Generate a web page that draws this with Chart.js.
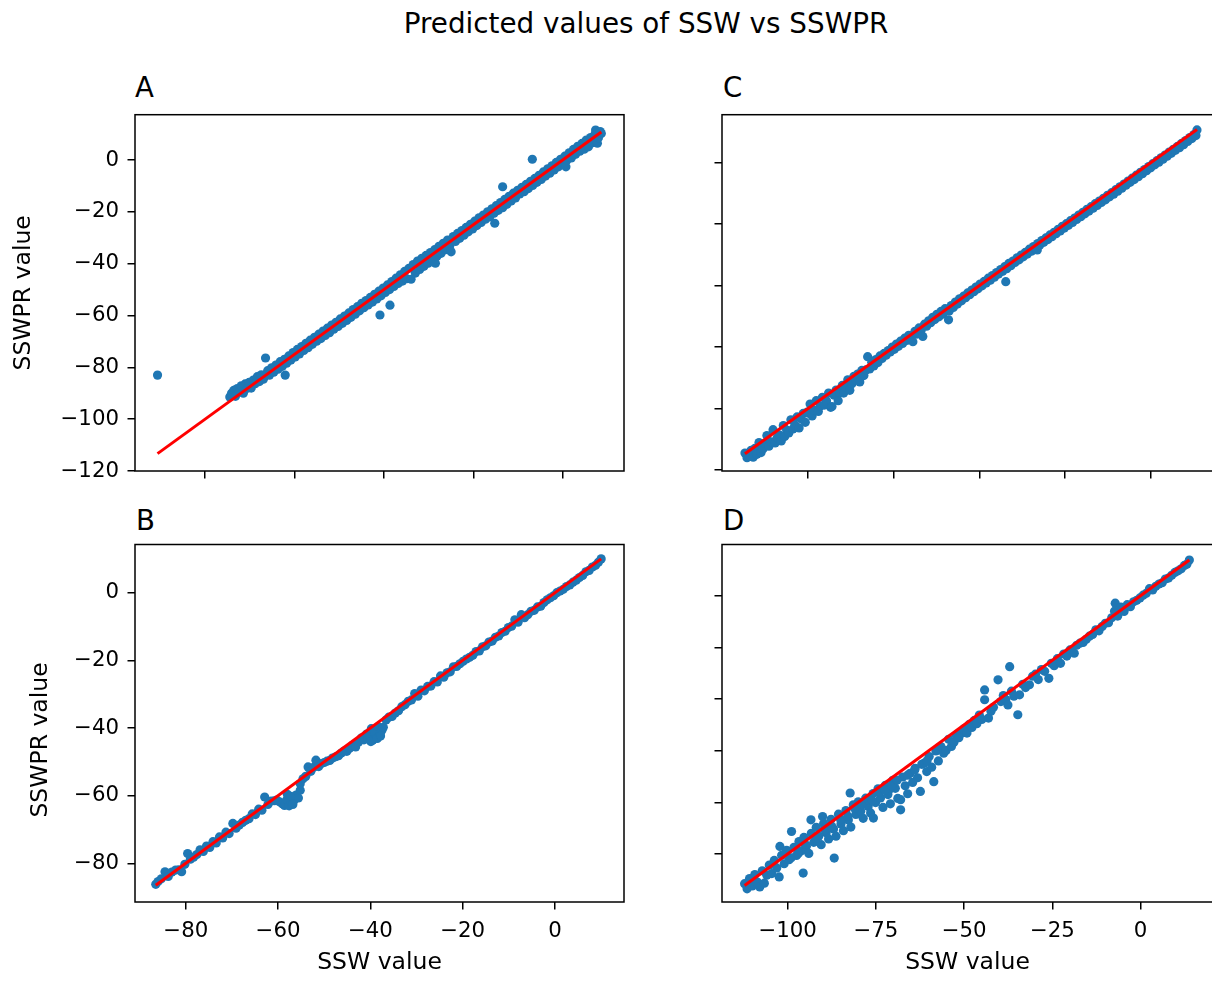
<!DOCTYPE html>
<html><head><meta charset="utf-8">
<script src="https://cdn.jsdelivr.net/npm/chart.js@4.4.0/dist/chart.umd.min.js"></script>
<style>
html,body{margin:0;padding:0;background:#fff;overflow:hidden;width:1212px;height:981px;}
body{position:relative;font-family:'DejaVu Sans',sans-serif;color:#000;}
canvas{position:absolute;}
.t{position:absolute;font-size:27.6px;line-height:34px;white-space:nowrap;}
</style></head><body>
<div class="t" id="sup" style="left:296px;width:700px;text-align:center;top:7px;font-size:27.8px"></div>
<div class="t" id="tA" style="left:135px;top:71px"></div>
<div class="t" id="tC" style="left:723px;top:71px"></div>
<div class="t" id="tB" style="left:136px;top:504px"></div>
<div class="t" id="tD" style="left:723px;top:504px"></div>
<canvas id="cA" width="640" height="400" style="left:0;top:100px"></canvas>
<canvas id="cB" width="640" height="461" style="left:0;top:520px"></canvas>
<canvas id="cC" width="590" height="400" style="left:640px;top:100px"></canvas>
<canvas id="cD" width="580" height="461" style="left:640px;top:520px"></canvas>
<script>
const suptitle = 'Predicted values of SSW vs SSWPR';
const panelNames = ['A', 'B', 'C', 'D'];
const xLabel = 'SSW value';
const yLabel = 'SSWPR value';

const ticksAX = [-100, -75, -50, -25, 0];
const ticksAY = [-120, -100, -80, -60, -40, -20, 0];
const ticksBX = [-80, -60, -40, -20, 0];
const ticksBY = [-80, -60, -40, -20, 0];
const ticksCX = [-100, -75, -50, -25, 0];
const ticksCY = [-125, -100, -75, -50, -25, 0];
const ticksDX = [-100, -75, -50, -25, 0];
const ticksDY = [-100, -80, -60, -40, -20, 0];

// Panel A
const aSSW = [
-93.1,-92.6,-92.0,-91.5,-91.0,-90.4,-89.9,-89.3,-88.8,-88.2,
-87.7,-87.1,-86.5,-86.0,-85.4,-84.8,-84.3,-83.7,-83.1,-82.5,
-82.0,-81.4,-80.8,-80.2,-79.6,-79.0,-78.4,-77.8,-77.6,-77.2,
-76.6,-76.0,-75.4,-74.8,-74.2,-73.6,-73.0,-72.4,-71.8,-71.2,
-70.6,-70.0,-69.4,-68.8,-68.2,-67.6,-67.0,-66.4,-65.8,-65.2,
-64.6,-64.0,-63.4,-62.8,-62.2,-61.6,-61.0,-60.4,-59.8,-59.2,
-58.6,-58.0,-57.4,-56.8,-56.2,-55.6,-55.0,-54.4,-53.8,-53.2,
-52.6,-52.0,-51.4,-51.1,-50.8,-50.2,-49.6,-49.0,-48.4,-48.3,
-47.8,-47.2,-46.6,-46.0,-45.4,-44.8,-44.2,-43.6,-43.0,-42.4,
-41.8,-41.2,-40.6,-40.0,-39.4,-38.8,-38.2,-37.6,-37.0,-36.4,
-35.8,-35.6,-35.2,-34.6,-34.0,-33.4,-32.8,-32.2,-31.6,-31.2,
-30.6,-30.0,-29.4,-28.8,-28.2,-27.6,-27.0,-26.4,-25.8,-25.2,
-24.6,-24.0,-23.4,-22.8,-22.2,-21.6,-21.0,-20.4,-19.8,-19.0,
-19.2,-18.6,-18.0,-17.4,-16.8,-16.8,-16.2,-15.6,-15.0,-14.4,
-13.8,-13.2,-12.6,-12.0,-11.4,-10.8,-10.2,-9.6,-9.0,-8.5,
-8.4,-7.8,-7.2,-6.6,-6.0,-5.4,-4.8,-4.2,-3.6,-3.0,
-2.4,-1.8,-1.2,-0.6,0.0,0.6,0.9,1.2,1.8,2.4,
3.0,3.6,4.2,4.8,5.4,6.0,6.6,7.2,7.8,8.4,
9.0,9.2,9.7,10.0,10.5,10.8,-113.3];
const aSSWPR = [
-91.4,-90.0,-88.9,-91.2,-88.2,-89.4,-87.1,-90.0,-86.4,-88.1,
-85.8,-88.0,-84.9,-86.3,-83.6,-85.5,-82.9,-84.6,-76.4,-81.3,
-83.0,-80.2,-81.9,-79.1,-80.7,-77.8,-79.6,-76.9,-83.0,-78.4,
-75.6,-77.2,-74.3,-76.0,-73.1,-74.8,-72.0,-73.5,-70.7,-72.4,
-69.5,-71.1,-68.4,-69.9,-67.2,-68.9,-66.0,-67.7,-64.9,-66.6,
-63.7,-65.3,-62.6,-64.2,-61.3,-63.0,-60.2,-61.9,-59.0,-60.7,
-57.7,-59.5,-56.6,-58.2,-55.3,-57.0,-54.2,-55.9,-53.0,-54.8,
-51.8,-53.6,-50.6,-59.8,-52.4,-49.4,-51.1,-48.2,-50.0,-56.0,
-46.9,-48.8,-45.6,-47.6,-44.3,-46.7,-43.0,-45.8,-41.8,-46.0,
-40.3,-43.6,-39.0,-42.2,-37.9,-41.0,-36.8,-39.8,-35.7,-38.6,
-34.6,-39.8,-37.2,-33.3,-36.0,-32.1,-34.6,-30.9,-33.2,-35.4,
-29.5,-31.4,-28.3,-30.2,-27.2,-29.0,-26.0,-27.7,-24.8,-26.6,
-23.6,-25.3,-22.3,-24.1,-21.2,-22.8,-20.0,-21.9,-18.8,-24.4,
-20.5,-17.6,-19.4,-16.4,-10.3,-18.4,-15.2,-17.1,-14.0,-15.8,
-12.8,-14.6,-11.7,-13.1,-10.5,-12.2,-9.4,-11.0,-8.2,0.3,
-9.8,-7.1,-8.6,-5.9,-7.5,-4.6,-6.2,-3.4,-5.1,-2.2,
-3.8,-0.9,-2.6,0.3,-1.4,1.5,-2.6,0.0,2.8,0.8,
4.1,2.2,5.3,3.4,6.4,4.2,7.7,5.1,8.7,6.7,
9.9,11.6,6.5,8.6,11.0,10.2,-83.0];
const aLineX = [-113.3, 10.8];
const aLineY = [-113.3, 10.8];

// Panel B
const bSSW = [
-86.5,-86.0,-85.3,-84.5,-83.8,-83.0,-82.2,-81.5,-80.9,-80.2,
-79.6,-79.0,-78.3,-77.6,-76.9,-76.2,-75.5,-74.8,-74.1,-73.4,
-72.7,-72.0,-71.3,-70.6,-69.8,-69.1,-68.4,-67.7,-67.0,-66.3,
-65.6,-64.9,-64.2,-63.5,-62.9,-62.2,-61.5,-60.8,-60.3,-59.7,
-59.1,-58.6,-58.1,-57.6,-57.1,-56.6,-56.1,-55.6,-55.2,-58.0,
-57.3,-56.8,-55.2,-54.6,-54.0,-53.5,-52.9,-52.3,-51.8,-51.2,
-50.6,-50.0,-49.4,-48.8,-48.2,-47.5,-46.9,-46.3,-45.7,-45.1,
-44.5,-43.9,-43.2,-42.6,-42.0,-41.4,-40.8,-40.6,-40.2,-39.8,
-39.5,-39.1,-38.7,-38.3,-37.9,-37.5,-37.2,-39.9,-38.5,-37.8,
-36.6,-36.0,-35.3,-34.6,-33.9,-33.2,-32.5,-31.8,-31.1,-30.4,
-29.7,-29.0,-28.3,-27.6,-26.9,-26.2,-25.5,-24.8,-24.1,-23.4,
-22.7,-22.0,-21.3,-20.6,-19.9,-19.2,-18.5,-17.8,-17.1,-16.4,
-15.7,-15.0,-14.3,-13.6,-12.9,-12.2,-11.5,-10.8,-10.1,-9.4,
-8.7,-8.0,-7.3,-6.6,-5.9,-5.2,-4.5,-3.8,-3.1,-2.4,
-1.7,-1.0,-0.3,0.4,1.1,1.8,2.5,3.2,3.9,4.6,
5.3,6.0,6.7,7.4,8.1,8.8,9.4,10.0];
const bSSWPR = [
-86.2,-85.4,-84.6,-82.5,-83.9,-82.6,-82.0,-81.9,-82.5,-80.3,
-77.1,-78.8,-78.2,-77.4,-76.0,-76.5,-74.9,-75.3,-73.6,-74.0,
-72.2,-72.5,-70.8,-71.2,-68.2,-69.6,-68.7,-67.9,-67.3,-66.8,
-65.4,-65.6,-64.0,-64.3,-60.4,-62.6,-61.6,-61.5,-61.3,-61.8,
-62.4,-62.9,-61.2,-63.0,-62.1,-61.5,-59.8,-60.7,-58.4,-59.6,
-60.2,-62.6,-56.5,-55.0,-54.3,-51.5,-52.8,-51.6,-49.5,-51.4,
-50.5,-50.2,-49.8,-49.6,-48.9,-48.5,-48.2,-47.4,-46.8,-46.9,
-46.0,-45.1,-45.6,-44.2,-43.0,-43.5,-41.8,-43.2,-42.7,-40.2,
-43.6,-41.5,-42.9,-39.6,-41.8,-40.7,-39.8,-44.0,-43.1,-42.4,
-37.6,-36.8,-36.6,-35.6,-34.9,-33.7,-33.1,-32.1,-31.7,-29.8,
-30.6,-28.8,-29.0,-27.7,-27.6,-26.3,-26.4,-24.6,-25.0,-23.7,
-23.4,-21.9,-21.8,-21.0,-20.3,-19.6,-19.1,-18.5,-17.4,-17.2,
-16.0,-15.7,-14.6,-14.3,-13.2,-12.8,-11.8,-11.4,-10.3,-9.9,
-8.0,-8.7,-6.5,-7.4,-6.5,-5.5,-5.2,-4.2,-4.0,-2.9,
-2.1,-1.5,-0.9,0.0,0.5,1.0,1.8,2.3,3.1,3.7,
4.5,5.1,6.2,6.6,7.6,8.1,9.0,10.0];
const bLineX = [-86.5, 10.0];
const bLineY = [-86.5, 10.0];

// Panel C
const cSSW = [
-118.4,-117.8,-117.2,-116.6,-116.0,-115.5,-114.9,-114.3,-113.7,-113.1,
-112.6,-112.0,-111.4,-110.8,-110.2,-109.6,-109.0,-108.4,-107.8,-107.2,
-106.8,-106.2,-105.6,-105.0,-104.4,-103.8,-103.2,-102.6,-102.0,-101.4,
-100.8,-100.2,-99.9,-99.4,-98.8,-98.2,-97.6,-97.0,-96.4,-95.8,
-95.2,-94.6,-94.0,-93.4,-93.0,-92.4,-91.8,-91.2,-90.6,-90.0,
-89.6,-89.0,-88.4,-87.8,-87.2,-86.6,-86.1,-85.5,-84.9,-84.3,
-83.7,-83.1,-82.6,-82.0,-81.4,-80.8,-80.2,-79.6,-79.0,-78.4,
-77.8,-77.2,-76.6,-76.0,-75.4,-74.8,-74.2,-73.6,-73.0,-72.4,
-71.8,-71.2,-70.6,-70.0,-69.4,-68.8,-68.2,-67.6,-67.0,-66.5,
-66.0,-65.4,-64.8,-64.2,-63.6,-63.0,-62.4,-61.8,-61.2,-60.6,
-60.0,-59.0,-58.8,-58.2,-57.6,-57.0,-56.4,-55.8,-55.2,-54.6,
-54.0,-53.4,-52.8,-52.2,-51.6,-51.0,-50.4,-49.8,-49.2,-48.6,
-48.0,-47.4,-46.8,-46.2,-45.6,-45.0,-44.4,-43.8,-43.2,-42.3,
-42.6,-42.0,-41.4,-40.8,-40.2,-39.6,-39.0,-38.4,-37.8,-37.2,
-36.6,-36.0,-35.4,-34.8,-34.2,-33.6,-33.1,-33.0,-32.4,-31.8,
-31.2,-30.6,-30.0,-29.4,-28.8,-28.2,-27.6,-27.0,-26.4,-25.8,
-25.2,-24.6,-24.0,-23.4,-22.8,-22.2,-21.6,-21.0,-20.4,-19.8,
-19.2,-18.6,-18.0,-17.4,-16.8,-16.2,-15.6,-15.0,-14.4,-13.8,
-13.2,-12.6,-12.0,-11.4,-10.8,-10.2,-9.6,-9.0,-8.4,-7.8,
-7.2,-6.6,-6.0,-5.4,-4.8,-4.2,-3.6,-3.0,-2.4,-1.8,
-1.2,-0.6,0.0,0.6,1.2,1.8,2.4,3.0,3.6,4.2,
4.8,5.4,6.0,6.6,7.2,7.8,8.4,9.0,9.6,10.2,
10.8,11.4,12.0,12.6,13.2,13.5];
const cSSWPR = [
-118.1,-120.0,-119.5,-117.0,-119.8,-116.2,-118.6,-113.8,-117.9,-116.4,
-114.1,-111.0,-115.3,-113.5,-108.6,-114.0,-111.9,-110.7,-113.2,-106.9,
-111.4,-108.8,-109.9,-104.6,-108.3,-106.7,-103.4,-107.9,-104.2,-102.0,
-105.6,-101.4,-101.9,-98.2,-103.0,-100.6,-96.8,-101.2,-99.0,-95.4,
-98.6,-96.9,-93.7,-99.5,-99.2,-94.6,-92.5,-96.8,-93.6,-90.6,
-93.7,-91.4,-88.3,-92.6,-89.9,-86.9,-88.3,-86.0,-89.2,-84.5,
-86.6,-84.3,-78.9,-83.9,-81.2,-82.7,-80.1,-81.3,-78.6,-79.6,
-77.6,-78.3,-76.4,-77.0,-75.0,-75.9,-73.8,-74.7,-72.6,-73.5,
-71.4,-72.3,-70.2,-71.0,-72.8,-68.6,-69.7,-67.2,-68.3,-70.7,
-65.7,-66.5,-64.3,-65.1,-62.9,-63.8,-61.7,-62.7,-60.5,-61.6,
-59.4,-63.9,-60.3,-58.1,-58.9,-56.7,-57.5,-55.4,-56.2,-54.3,
-54.9,-53.0,-53.7,-51.8,-52.5,-50.6,-51.3,-49.4,-50.1,-48.3,
-48.9,-47.0,-47.8,-45.9,-46.6,-44.7,-45.3,-43.5,-44.2,-48.4,
-42.3,-43.1,-41.0,-41.9,-40.0,-40.6,-38.7,-39.5,-37.6,-38.3,
-36.5,-37.2,-35.2,-36.0,-34.1,-34.9,-35.5,-32.9,-33.6,-31.7,
-32.4,-30.6,-31.3,-29.4,-30.1,-28.3,-28.9,-27.1,-27.8,-25.9,
-26.6,-24.8,-25.5,-23.6,-24.3,-22.5,-23.1,-21.3,-22.0,-20.2,
-20.8,-19.0,-19.7,-17.9,-18.5,-16.7,-17.4,-15.6,-16.2,-14.5,
-15.1,-13.3,-13.9,-12.2,-12.8,-11.0,-11.6,-9.8,-10.4,-8.7,
-9.2,-7.5,-8.0,-6.3,-6.9,-5.1,-5.7,-3.9,-4.5,-2.8,
-3.3,-1.6,-2.1,-0.4,-0.9,0.8,0.2,2.0,1.4,3.1,
2.6,4.3,3.8,5.4,5.0,6.6,6.1,7.8,7.3,9.0,
8.6,10.2,9.8,11.4,11.0,13.3];
const cLineX = [-118.4, 13.5];
const cLineY = [-118.4, 13.5];

// Panel D
const dSSW = [
-112.2,-111.5,-110.8,-110.0,-109.3,-108.6,-107.9,-107.2,-106.6,-105.9,
-105.2,-104.5,-103.8,-103.1,-102.4,-102.2,-101.7,-101.0,-100.3,-99.6,
-98.9,-98.2,-97.5,-96.8,-96.1,-95.6,-95.4,-94.7,-94.0,-93.4,
-93.3,-92.6,-91.9,-91.2,-90.5,-90.1,-89.8,-89.1,-88.4,-87.7,
-87.0,-86.8,-86.3,-85.6,-84.9,-84.2,-83.5,-82.8,-82.3,-82.1,
-81.4,-80.7,-80.0,-79.3,-78.6,-77.9,-77.2,-76.5,-75.8,-75.7,
-75.1,-74.4,-73.7,-73.0,-72.3,-71.6,-71.3,-70.9,-70.2,-69.5,
-68.8,-68.0,-68.0,-67.4,-66.7,-66.0,-65.3,-64.6,-63.9,-63.2,
-62.4,-61.3,-60.6,-59.9,-59.2,-58.6,-58.0,-57.3,-56.6,-55.8,
-55.1,-54.4,-53.6,-52.9,-52.2,-51.5,-50.8,-50.1,-49.2,-48.5,
-47.8,-47.1,-46.4,-45.7,-45.0,-44.2,-44.2,-43.1,-42.4,-41.7,
-40.4,-39.6,-38.9,-38.2,-37.6,-37.1,-36.6,-35.9,-34.8,-34.3,
-33.4,-32.6,-31.5,-30.6,-29.8,-29.0,-28.1,-27.2,-26.0,-25.3,
-24.5,-23.6,-22.7,-21.8,-20.9,-20.0,-18.8,-18.1,-17.2,-16.3,
-15.4,-14.5,-13.6,-12.7,-11.8,-10.9,-10.0,-9.1,-8.2,-7.2,
-7.4,-6.5,-5.6,-4.7,-3.8,-2.9,-2.0,-1.1,-0.2,0.7,
1.6,2.5,3.4,4.3,5.2,6.1,7.0,7.9,8.8,9.7,
10.6,11.5,12.4,13.1,13.8,
-99.0,-97.0,-95.0,-92.0,-89.5,-87.5,-85.0,-83.0,-81.0,-79.0,
-77.0,-76.0,-74.0,-72.5,-70.5,-69.0,-66.0,-64.0,-62.0,-60.5];
const dSSWPR = [
-111.5,-113.5,-109.5,-112.4,-108.0,-110.9,-112.8,-106.5,-111.3,-108.2,
-104.3,-107.6,-102.5,-105.4,-108.9,-97.1,-100.5,-103.8,-98.6,-102.2,
-91.3,-97.4,-100.6,-95.2,-98.8,-107.4,-93.6,-97.0,-99.8,-86.8,
-92.0,-95.5,-89.7,-93.1,-96.4,-85.5,-88.2,-91.8,-94.2,-86.6,
-90.3,-101.6,-93.1,-84.6,-88.4,-91.0,-83.2,-86.9,-76.4,-89.6,
-81.0,-84.7,-79.8,-83.5,-86.2,-78.4,-81.6,-84.1,-76.6,-86.1,
-80.1,-74.8,-78.3,-82.0,-73.4,-77.0,-75.2,-80.6,-71.5,-74.6,
-78.5,-82.9,-79.0,-70.2,-73.6,-76.7,-68.8,-72.3,-66.9,-70.5,
-75.8,-64.8,-68.1,-62.3,-66.4,-72.0,-60.1,-64.0,-58.4,-61.0,
-59.9,-55.6,-58.4,-56.8,-54.1,-55.0,-53.3,-51.6,-53.2,-49.8,
-51.0,-48.3,-49.6,-46.2,-47.9,-36.5,-40.3,-47.4,-44.8,-43.2,
-32.6,-41.0,-38.7,-40.2,-42.3,-27.5,-37.0,-38.9,-46.1,-38.4,
-34.3,-35.6,-34.5,-31.2,-30.4,-32.5,-28.6,-29.3,-32.0,-26.2,
-27.1,-24.4,-26.2,-22.6,-23.4,-21.0,-22.3,-19.2,-18.4,-18.1,
-16.9,-15.7,-15.0,-13.2,-13.6,-11.9,-10.7,-10.5,-8.6,-2.9,
-6.0,-7.9,-4.4,-6.1,-3.5,-4.3,-2.4,-1.8,-0.9,0.2,
0.9,2.7,2.2,3.6,4.5,5.0,6.4,6.8,7.9,9.0,
9.6,10.4,11.7,12.2,13.8,
-101.5,-99.8,-96.3,-94.0,-90.6,-89.4,-86.7,-85.3,-82.4,-80.9,
-79.2,-79.4,-76.0,-75.3,-73.6,-71.5,-69.5,-67.5,-65.3,-63.9];
const dLineX = [-112.2, 13.8];
const dLineY = [-112.2, 13.8];

document.getElementById('sup').textContent = suptitle;
document.getElementById('tA').textContent = panelNames[0];
document.getElementById('tB').textContent = panelNames[1];
document.getElementById('tC').textContent = panelNames[2];
document.getElementById('tD').textContent = panelNames[3];

Chart.defaults.font.family = "'DejaVu Sans', sans-serif";
Chart.defaults.color = '#000';

const TICK_FONT = 21.3, LABEL_FONT = 23.5;
const pts = (xs, ys) => xs.map((x, i) => ({x: x, y: ys[i]}));
const fmt = v => (v < 0 ? '\u2212' + Math.abs(v) : String(v));
const frame = {
  id: 'frame',
  afterDraw(chart) {
    const a = chart.chartArea, g = chart.ctx;
    g.save();
    g.strokeStyle = '#000';
    g.lineWidth = 1.5;
    g.strokeRect(a.left, a.top, a.right - a.left, a.bottom - a.top);
    g.restore();
  }
};
// free-positioned rotated y label (used where the label sits off the axis centre)
const yLabelAt = {
  id: 'yLabelAt',
  afterDraw(chart, args, opts) {
    if (!opts || !opts.text) return;
    const g = chart.ctx;
    g.save();
    g.translate(opts.x, opts.y);
    g.rotate(-Math.PI / 2);
    g.font = LABEL_FONT + "px 'DejaVu Sans', sans-serif";
    g.fillStyle = '#000';
    g.textAlign = 'center';
    g.textBaseline = 'middle';
    g.fillText(opts.text, 0, 0);
    g.restore();
  }
};
const zeroPad = s => { s.paddingTop = 0; s.paddingBottom = 0; s.paddingLeft = 0; s.paddingRight = 0; };

function panel(id, o) {
  new Chart(document.getElementById(id), {
    type: 'scatter',
    data: {datasets: [
      {data: pts(o.lx, o.ly), showLine: true, borderColor: '#ff0000', borderWidth: 3,
       pointRadius: 0, order: 0, clip: false},
      {data: pts(o.x, o.y), backgroundColor: '#1f77b4', borderWidth: 0,
       pointRadius: 4.6, order: 1}
    ]},
    options: {
      responsive: false, animation: false, events: [],
      layout: {padding: {left: 0, top: o.padTop, right: o.padRight, bottom: 0}},
      plugins: {legend: {display: false}, tooltip: {enabled: false},
                yLabelAt: o.freeY || {}},
      scales: {
        x: {
          type: 'linear', position: 'bottom', bounds: 'data', min: o.xr[0], max: o.xr[1],
          afterBuildTicks: s => { s.ticks = o.xt.map(v => ({value: v})); },
          afterFit: s => { s.height = o.xh; zeroPad(s); },
          ticks: {display: o.xlab, callback: fmt, autoSkip: false, maxRotation: 0, minRotation: 0,
                  padding: 9, color: '#000', font: {size: TICK_FONT}},
          grid: {display: true, drawOnChartArea: false, drawTicks: true, tickLength: 7.5,
                 color: '#000', lineWidth: 1.5},
          border: {display: false},
          title: {display: o.xlab, text: xLabel, color: '#000', font: {size: LABEL_FONT},
                  padding: {top: 0, bottom: 4.4}}
        },
        y: {
          type: 'linear', position: 'left', bounds: 'data', min: o.yr[0], max: o.yr[1],
          afterBuildTicks: s => { s.ticks = o.yt.map(v => ({value: v})); },
          afterFit: s => { s.width = o.yw; zeroPad(s); },
          ticks: {display: o.ylab, callback: fmt, autoSkip: false, padding: 8.5,
                  color: '#000', font: {size: TICK_FONT}},
          grid: {display: true, drawOnChartArea: false, drawTicks: true, tickLength: 7.5,
                 color: '#000', lineWidth: 1.5},
          border: {display: false},
          title: {display: o.ytitle, text: yLabel, color: '#000', font: {size: LABEL_FONT},
                  padding: {top: o.ytp, bottom: 0}}
        }
      }
    },
    plugins: [frame, yLabelAt]
  });
}

panel('cA', {x: aSSW, y: aSSWPR, lx: aLineX, ly: aLineY,
  xr: [-119.6, 17.14], yr: [-120.0, 17.5], xt: ticksAX, yt: ticksAY,
  xlab: false, ylab: true, ytitle: true, yw: 135, xh: 29, padTop: 14.7, padRight: 16, ytp: 10.1});
panel('cB', {x: bSSW, y: bSSWPR, lx: bLineX, ly: bLineY,
  xr: [-91.0, 14.95], yr: [-91.44, 14.25], xt: ticksBX, yt: ticksBY,
  xlab: true, ylab: true, ytitle: false, yw: 135, xh: 79, padTop: 24.5, padRight: 16, ytp: 0,
  freeY: {text: yLabel, x: 40.8, y: 220}});
panel('cC', {x: cSSW, y: cSSWPR, lx: cLineX, ly: cLineY,
  xr: [-125.1, 20.1], yr: [-125.4, 19.5], xt: ticksCX, yt: ticksCY,
  xlab: false, ylab: false, ytitle: false, yw: 82, xh: 29, padTop: 14.7, padRight: 10.4, ytp: 0});
panel('cD', {x: dSSW, y: dSSWPR, lx: dLineX, ly: dLineY,
  xr: [-118.6, 20.5], yr: [-118.6, 19.8], xt: ticksDX, yt: ticksDY,
  xlab: true, ylab: false, ytitle: false, yw: 82, xh: 79, padTop: 24.5, padRight: 7, ytp: 0});
</script>
</body></html>
